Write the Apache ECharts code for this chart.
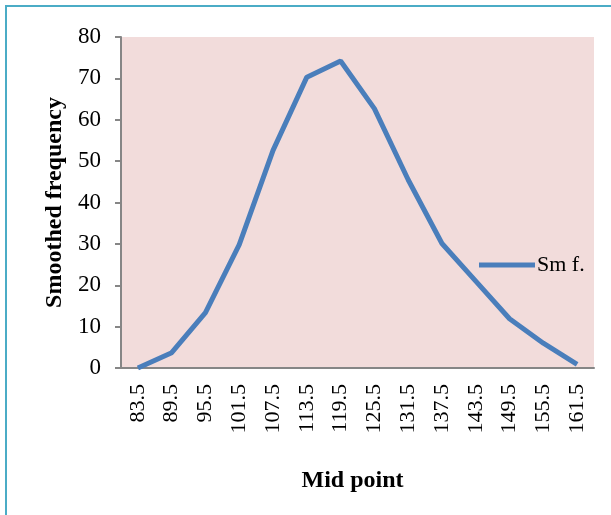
<!DOCTYPE html>
<html lang="en">
<head>
    <meta charset="UTF-8">
    <title>Smoothed frequency</title>
    <script src="https://cdn.jsdelivr.net/npm/echarts@6/dist/echarts.min.js"></script>
    <style type="text/css">
        html, body { margin: 0; padding: 0; background: #fff; }
        #frame {
            position: absolute; left: 5px; top: 5px; width: 620px; height: 520px;
            border-top: 2px solid #4bacc6; border-left: 2px solid #4bacc6;
        }
        #pic { position: absolute; left: 0; top: 0; width: 611px; height: 515px; }
    </style>
</head>
<body>
<div id="frame"></div>
<div id="pic"></div>
<script type="text/javascript">
    // mid points and smoothed frequency
    var midPoints = ['83.5', '89.5', '95.5', '101.5', '107.5', '113.5', '119.5',
        '125.5', '131.5', '137.5', '143.5', '149.5', '155.5', '161.5'];
    var smoothed = [0, 3.7, 13.4, 29.8, 52.6, 70.3, 74.2, 62.7, 45.5, 30.1, 21, 11.9, 6, 0.9];
    var yTicks = { min: 0, max: 80, interval: 10 };

    var font = '"Liberation Serif", "Times New Roman", serif';
    var axisGray = '#868686';
    var lineBlue = '#4a7ebb';

    var myChart = echarts.init(document.getElementById('pic'));
    var option = {
        animation: false,
        textStyle: { fontFamily: font, color: '#000' },
        grid: {
            left: 121, right: 17, top: 37, bottom: 147,
            show: true, backgroundColor: '#f2dcdb', borderWidth: 0
        },
        legend: {
            left: 474, top: 249,
            icon: 'rect',
            itemWidth: 56, itemHeight: 5,
            itemGap: 4,
            textStyle: { fontFamily: font, fontSize: 22, color: '#000', padding: [0, 0, 0, -3] },
            data: ['Sm f.']
        },
        xAxis: {
            type: 'category',
            data: midPoints,
            boundaryGap: true,
            name: 'Mid point',
            nameLocation: 'middle',
            nameGap: 101,
            nameTextStyle: { fontFamily: font, fontSize: 24, fontWeight: 'bold', color: '#000', padding: [0, 10, 0, 0] },
            axisLine: { lineStyle: { color: axisGray, width: 2 } },
            axisTick: { alignWithLabel: false, length: 6, lineStyle: { color: axisGray, width: 2 } },
            axisLabel: { rotate: 90, margin: 16, fontSize: 22, color: '#000', fontFamily: font },
            splitLine: { show: false }
        },
        yAxis: {
            type: 'value',
            min: yTicks.min, max: yTicks.max, interval: yTicks.interval,
            name: 'Smoothed frequency',
            nameLocation: 'middle',
            nameGap: 52,
            nameTextStyle: { fontFamily: font, fontSize: 24, fontWeight: 'bold', color: '#000' },
            axisLine: { show: true, lineStyle: { color: axisGray, width: 2 } },
            axisTick: { show: true, length: 6, lineStyle: { color: axisGray, width: 2 } },
            axisLabel: { margin: 20, fontSize: 23, color: '#000', fontFamily: font },
            splitLine: { show: false }
        },
        series: [{
            name: 'Sm f.',
            type: 'line',
            data: smoothed,
            symbol: 'none',
            lineStyle: { color: lineBlue, width: 5 },
            itemStyle: { color: lineBlue }
        }]
    };
    myChart.setOption(option);
</script>
</body>
</html>
